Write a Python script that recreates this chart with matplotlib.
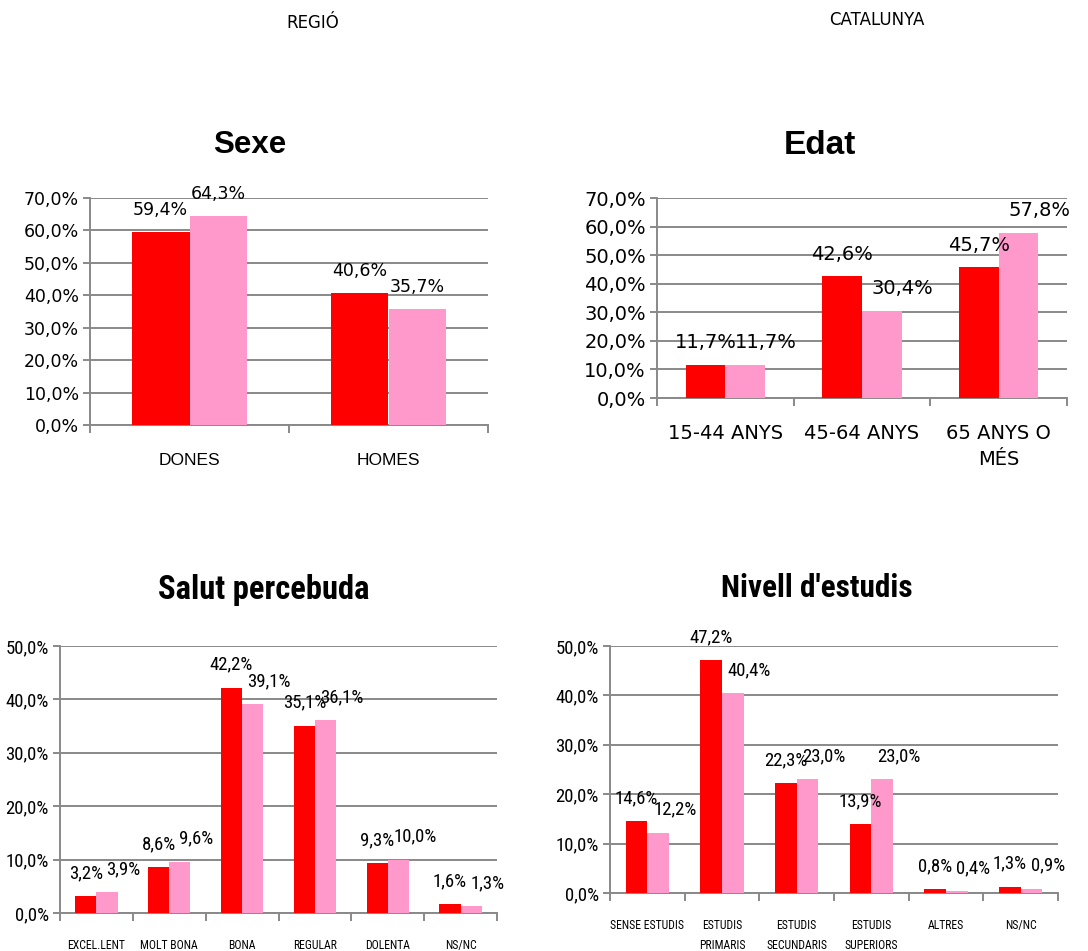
from __future__ import annotations

import matplotlib

matplotlib.use("Agg")
import matplotlib.pyplot as plt
import numpy as np
from matplotlib import font_manager
from matplotlib.ticker import FuncFormatter, MultipleLocator

# data (percentages) - red = regió, pink = Catalunya
SEXE_CATS = ["DONES", "HOMES"]
SEXE_REGIO = [59.4, 40.6]
SEXE_CAT = [64.3, 35.7]

EDAT_CATS = ["15-44 ANYS", "45-64 ANYS", "65 ANYS O\nMÉS"]
EDAT_REGIO = [11.7, 42.6, 45.7]
EDAT_CAT = [11.7, 30.4, 57.8]

SALUT_CATS = ["EXCEL.LENT", "MOLT BONA", "BONA", "REGULAR", "DOLENTA", "NS/NC"]
SALUT_REGIO = [3.2, 8.6, 42.2, 35.1, 9.3, 1.6]
SALUT_CAT = [3.9, 9.6, 39.1, 36.1, 10.0, 1.3]

ESTUDIS_CATS = ["SENSE ESTUDIS", "ESTUDIS\nPRIMARIS", "ESTUDIS\nSECUNDARIS",
                "ESTUDIS\nSUPERIORS", "ALTRES", "NS/NC"]
ESTUDIS_REGIO = [14.6, 47.2, 22.3, 13.9, 0.8, 1.3]
ESTUDIS_CAT = [12.2, 40.4, 23.0, 23.0, 0.4, 0.9]

RED = "#FF0000"
PINK = "#FF99CC"
GRID = "#898989"
FIG_W, FIG_H = 1088, 951


def pick_narrow() -> tuple[list[str], float]:
    # bottom charts were drawn in a condensed face; use one if the box has it
    installed = {f.name for f in font_manager.fontManager.ttflist}
    for name in ("Liberation Sans Narrow", "Arial Narrow", "Roboto Condensed",
                 "DejaVu Sans Condensed", "Open Sans Condensed", "Noto Sans Condensed"):
        if name in installed:
            return [name, "DejaVu Sans"], 1.0
    return ["Liberation Sans", "DejaVu Sans"], 0.84


def pct(v: float) -> str:
    return f"{v:.1f}%".replace(".", ",")


def px_box(left: float, right: float, top: float, bottom: float) -> list[float]:
    return [left / FIG_W, 1 - bottom / FIG_H, (right - left) / FIG_W, (bottom - top) / FIG_H]


def draw_panel(ax, cats, regio, catal, ymax, step, *, tick_font, tick_size,
               label_font, label_size, cat_font, cat_size, cat_pad, linespacing,
               pink_dx, label_dy):
    n = len(cats)
    x = np.arange(n)
    w = 0.29
    ax.bar(x - w / 2, regio, w, color=RED, zorder=3)
    ax.bar(x + w / 2, catal, w, color=PINK, zorder=3)

    for xi, v in zip(x, regio):
        ax.annotate(pct(v), (xi - w / 2, v), xytext=(0, label_dy), textcoords="offset points",
                    ha="center", va="center", family=label_font, fontsize=label_size, zorder=4)
    for xi, v in zip(x, catal):
        ax.annotate(pct(v), (xi + w / 2, v), xytext=(pink_dx, label_dy), textcoords="offset points",
                    ha="center", va="center", family=label_font, fontsize=label_size, zorder=4)

    ax.set_xlim(-0.5, n - 0.5)
    ax.set_ylim(0, ymax)
    ax.yaxis.set_major_locator(MultipleLocator(step))
    ax.yaxis.set_major_formatter(FuncFormatter(lambda v, _: pct(v)))
    ax.grid(axis="y", color=GRID, linewidth=1.4, zorder=0)
    ax.set_axisbelow(True)

    ax.set_xticks(x)
    ax.set_xticklabels(cats, family=cat_font, fontsize=cat_size, linespacing=linespacing)
    ax.set_xticks(np.arange(n + 1) - 0.5, minor=True)
    ax.tick_params(axis="x", which="major", length=0, pad=cat_pad)
    ax.tick_params(axis="x", which="minor", length=6, width=1.4, color=GRID, direction="out")
    ax.tick_params(axis="y", length=5, width=1.4, color=GRID, direction="out", pad=3)
    for lab in ax.get_yticklabels():
        lab.set_family(tick_font)
        lab.set_fontsize(tick_size)

    for side in ("top", "right"):
        ax.spines[side].set_visible(False)
    for side in ("left", "bottom"):
        ax.spines[side].set_color(GRID)
        ax.spines[side].set_linewidth(1.4)


def main() -> None:
    fig = plt.figure(figsize=(FIG_W / 100, FIG_H / 100), dpi=100)
    fig.patch.set_facecolor("white")

    narrow, k = pick_narrow()

    ax1 = fig.add_axes(px_box(90, 488, 198, 425))
    draw_panel(ax1, SEXE_CATS, SEXE_REGIO, SEXE_CAT, 70, 10,
               tick_font="DejaVu Sans", tick_size=12.5, label_font="DejaVu Sans", label_size=12.5,
               cat_font="Liberation Sans", cat_size=12.5, cat_pad=20, linespacing=1.4,
               pink_dx=0, label_dy=16)

    ax2 = fig.add_axes(px_box(657, 1067, 198, 398))
    draw_panel(ax2, EDAT_CATS, EDAT_REGIO, EDAT_CAT, 70, 10,
               tick_font="DejaVu Sans", tick_size=14, label_font="DejaVu Sans", label_size=14,
               cat_font="DejaVu Sans", cat_size=14, cat_pad=19, linespacing=1.45,
               pink_dx=15, label_dy=16)

    ax3 = fig.add_axes(px_box(60, 497, 646, 913))
    draw_panel(ax3, SALUT_CATS, SALUT_REGIO, SALUT_CAT, 50, 10,
               tick_font=narrow, tick_size=13.5 * k, label_font=narrow, label_size=13.5 * k,
               cat_font=narrow, cat_size=8.5 * k, cat_pad=19, linespacing=1.7 / k,
               pink_dx=12, label_dy=16.5)

    ax4 = fig.add_axes(px_box(610, 1058, 646, 893))
    draw_panel(ax4, ESTUDIS_CATS, ESTUDIS_REGIO, ESTUDIS_CAT, 50, 10,
               tick_font=narrow, tick_size=13.5 * k, label_font=narrow, label_size=13.5 * k,
               cat_font=narrow, cat_size=8.5 * k, cat_pad=19, linespacing=1.7 / k,
               pink_dx=12, label_dy=16.5)

    # titles and column headers
    def ftext(x, y, s, **kw):
        fig.text(x / FIG_W, 1 - y / FIG_H, s, ha="center", va="center", **kw)

    ftext(313, 23, "REGIÓ", family="DejaVu Sans", fontsize=12)
    ftext(877, 20, "CATALUNYA", family="DejaVu Sans", fontsize=12)
    ftext(250, 145, "Sexe", family="Liberation Sans", fontsize=22.5, fontweight="bold")
    ftext(820, 145, "Edat", family="Liberation Sans", fontsize=24, fontweight="bold")
    ftext(264, 590, "Salut percebuda", family=narrow, fontsize=23.5 * k, fontweight="bold")
    ftext(817, 588, "Nivell d'estudis", family=narrow, fontsize=22.5 * k, fontweight="bold")

    fig.savefig("out.png", dpi=100, facecolor="white")
    plt.close(fig)


if __name__ == "__main__":
    main()
